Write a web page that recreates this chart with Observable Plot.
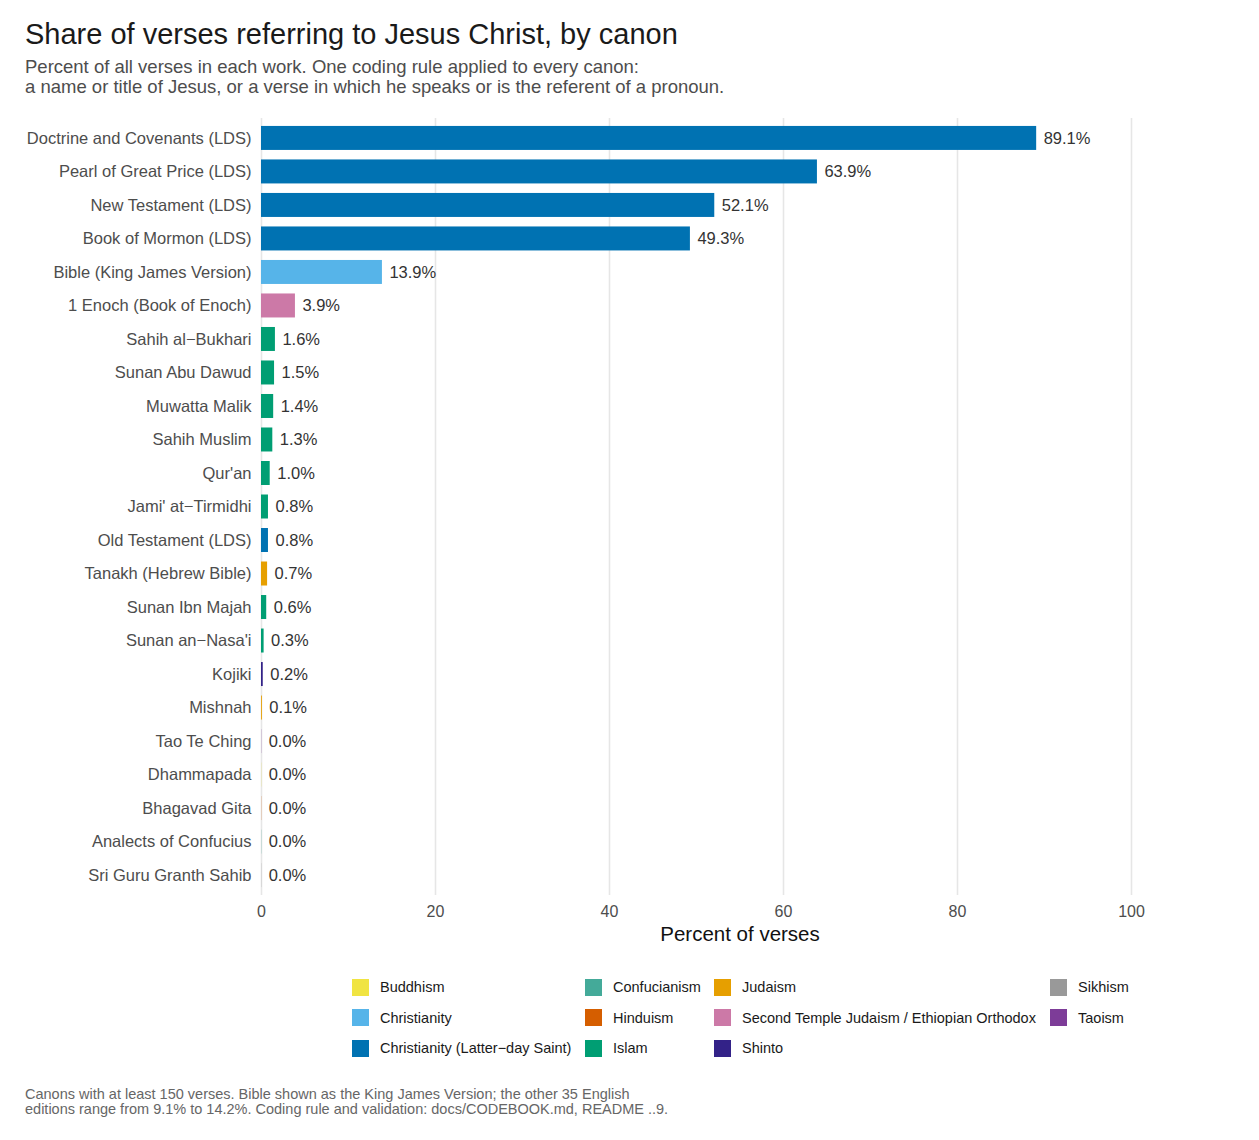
<!DOCTYPE html>
<html>
<head>
<meta charset="utf-8">
<script src="https://cdn.jsdelivr.net/npm/d3@7"></script>
<script src="https://cdn.jsdelivr.net/npm/@observablehq/plot@0.6"></script>
<style>
  html, body { margin: 0; padding: 0; background: #fff; }
  body { font-family: "Liberation Sans", Arial, Helvetica, sans-serif; }
  #wrap { position: relative; width: 1259px; height: 1140px; overflow: hidden; }
  #title { position: absolute; left: 25px; top: 18px; font-size: 29px; line-height: 32px; color: #1a1a1a; white-space: nowrap; }
  #subtitle { position: absolute; left: 25px; top: 57px; font-size: 18.5px; line-height: 20px; color: #4d4d4d; white-space: nowrap; }
  #chart { position: absolute; left: 0; top: 110px; }
  #legend { position: absolute; left: 352px; top: 972px; display: grid; grid-template-columns: 233px 129px 336px auto; grid-auto-flow: column; grid-template-rows: repeat(3, 30.5px); font-size: 14.5px; color: #1a1a1a; }
  .item { display: flex; align-items: center; white-space: nowrap; }
  .sw { width: 17px; height: 17px; margin-right: 11px; flex: none; }
  #caption { position: absolute; left: 25px; top: 1087px; font-size: 14.5px; line-height: 15px; color: #666; white-space: nowrap; }
  g[aria-label="x-axis label"] { font-size: 20.5px; fill: #111; }
</style>
</head>
<body>
<div id="wrap">
  <div id="title">Share of verses referring to Jesus Christ, by canon</div>
  <div id="subtitle">Percent of all verses in each work. One coding rule applied to every canon:<br>a name or title of Jesus, or a verse in which he speaks or is the referent of a pronoun.</div>
  <div id="chart"></div>
  <div id="legend"></div>
  <div id="caption">Canons with at least 150 verses. Bible shown as the King James Version; the other 35 English<br>editions range from 9.1% to 14.2%. Coding rule and validation: docs/CODEBOOK.md, README ..9.</div>
</div>
<script>
const canons = [
  "Doctrine and Covenants (LDS)",
  "Pearl of Great Price (LDS)",
  "New Testament (LDS)",
  "Book of Mormon (LDS)",
  "Bible (King James Version)",
  "1 Enoch (Book of Enoch)",
  "Sahih al\u2212Bukhari",
  "Sunan Abu Dawud",
  "Muwatta Malik",
  "Sahih Muslim",
  "Qur'an",
  "Jami' at\u2212Tirmidhi",
  "Old Testament (LDS)",
  "Tanakh (Hebrew Bible)",
  "Sunan Ibn Majah",
  "Sunan an\u2212Nasa'i",
  "Kojiki",
  "Mishnah",
  "Tao Te Ching",
  "Dhammapada",
  "Bhagavad Gita",
  "Analects of Confucius",
  "Sri Guru Granth Sahib"
];
const shares = [89.1, 63.9, 52.1, 49.3, 13.9, 3.9, 1.6, 1.5, 1.4, 1.3, 1.0, 0.8, 0.8, 0.7, 0.6, 0.3, 0.2, 0.1, 0.02, 0.02, 0.02, 0.02, 0.02];
const canonTraditions = [
  "Christianity (Latter\u2212day Saint)",
  "Christianity (Latter\u2212day Saint)",
  "Christianity (Latter\u2212day Saint)",
  "Christianity (Latter\u2212day Saint)",
  "Christianity",
  "Second Temple Judaism / Ethiopian Orthodox",
  "Islam", "Islam", "Islam", "Islam", "Islam", "Islam",
  "Christianity (Latter\u2212day Saint)",
  "Judaism",
  "Islam", "Islam",
  "Shinto",
  "Judaism",
  "Taoism", "Buddhism", "Hinduism", "Confucianism", "Sikhism"
];
const traditions = [
  "Buddhism", "Christianity", "Christianity (Latter\u2212day Saint)",
  "Confucianism", "Hinduism", "Islam",
  "Judaism", "Second Temple Judaism / Ethiopian Orthodox", "Shinto",
  "Sikhism", "Taoism"
];
const traditionColors = [
  "#F0E442", "#56B4E9", "#0072B2",
  "#44AA99", "#D55E00", "#009E73",
  "#E69F00", "#CC79A7", "#332288",
  "#999999", "#7D3C98"
];
const xTicks = [0, 20, 40, 60, 80, 100];

const data = canons.map((c, i) => ({canon: c, share: shares[i], tradition: canonTraditions[i]}));
const font = '"Liberation Sans", Arial, Helvetica, sans-serif';

const chart = Plot.plot({
  width: 1259,
  height: 850,
  marginTop: 8,
  marginBottom: 65,
  marginLeft: 261,
  marginRight: 41,
  style: {fontFamily: font, fontSize: "16px", color: "#4d4d4d", background: "white"},
  x: {domain: [0, 110]},
  y: {domain: canons, paddingInner: 0.284, paddingOuter: 0.237, round: false},
  color: {domain: traditions, range: traditionColors},
  marks: [
    Plot.gridX(xTicks, {stroke: "#e6e6e6", strokeOpacity: 1, strokeWidth: 1.6}),
    Plot.barX(data, {x: "share", y: "canon", fill: "tradition"}),
    Plot.text(data, {x: "share", y: "canon", text: d => d.share.toFixed(1) + "%", textAnchor: "start", dx: 7, fill: "#333", fontSize: 16.5}),
    Plot.axisX({ticks: xTicks, tickSize: 0, tickPadding: 10, fontSize: 16, label: "Percent of verses", labelAnchor: "center", labelArrow: "none", labelOffset: 45}),
    Plot.axisY({tickSize: 0, tickPadding: 10, fontSize: 16.5, label: null, fill: "#4d4d4d"})
  ]
});
document.getElementById("chart").appendChild(chart);

const legend = document.getElementById("legend");
traditions.forEach((t, i) => {
  const item = document.createElement("div");
  item.className = "item";
  const sw = document.createElement("span");
  sw.className = "sw";
  sw.style.background = traditionColors[i];
  const lab = document.createElement("span");
  lab.textContent = t;
  item.appendChild(sw);
  item.appendChild(lab);
  legend.appendChild(item);
});
</script>
</body>
</html>
